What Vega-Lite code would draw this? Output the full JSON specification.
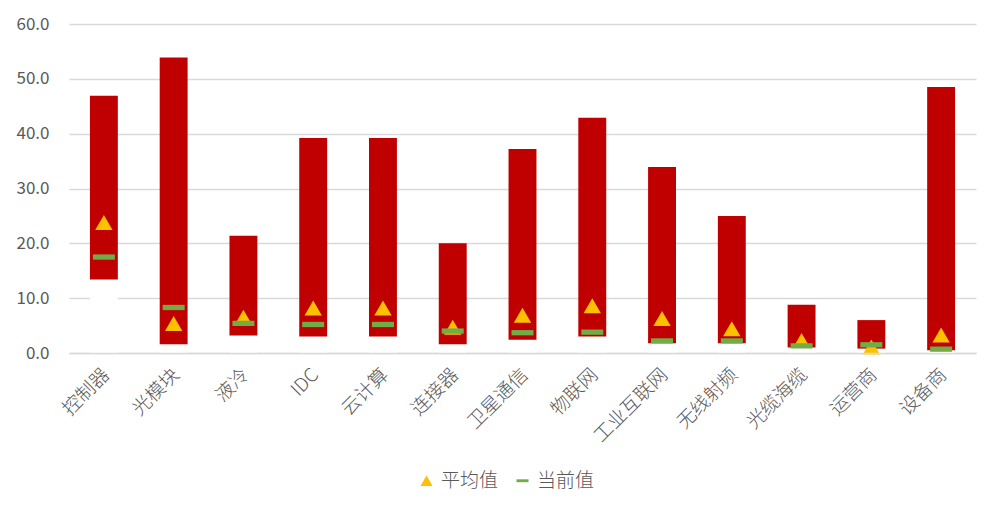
{
  "$schema": "https://vega.github.io/schema/vega-lite/v6.json",
  "autosize": "none",
  "width": 907,
  "height": 329,
  "padding": {"left": 69, "top": 24, "right": 23, "bottom": 159},
  "background": "#ffffff",
  "config": {
    "view": {"stroke": null},
    "font": "Noto Sans CJK SC",
    "axis": {"labelFont": "Noto Sans CJK SC", "labelColor": "#595959"}
  },
  "data": {
    "values": [
      {"cat": "控制器", "min": 13.4, "max": 46.9, "平均值": 23.8, "当前值": 17.5},
      {"cat": "光模块", "min": 1.6, "max": 53.9, "平均值": 5.4, "当前值": 8.3},
      {"cat": "液冷", "min": 3.2, "max": 21.4, "平均值": 6.5, "当前值": 5.4},
      {"cat": "IDC", "min": 3.0, "max": 39.2, "平均值": 8.2, "当前值": 5.2},
      {"cat": "云计算", "min": 3.0, "max": 39.2, "平均值": 8.2, "当前值": 5.2},
      {"cat": "连接器", "min": 1.6, "max": 20.0, "平均值": 4.7, "当前值": 4.0},
      {"cat": "卫星通信", "min": 2.4, "max": 37.2, "平均值": 6.9, "当前值": 3.7},
      {"cat": "物联网", "min": 3.0, "max": 42.9, "平均值": 8.6, "当前值": 3.8},
      {"cat": "工业互联网", "min": 1.8, "max": 33.9, "平均值": 6.3, "当前值": 2.2},
      {"cat": "无线射频", "min": 1.8, "max": 25.0, "平均值": 4.4, "当前值": 2.2},
      {"cat": "光缆海缆", "min": 1.0, "max": 8.8, "平均值": 2.3, "当前值": 1.3},
      {"cat": "运营商", "min": 0.8, "max": 6.0, "平均值": 1.1, "当前值": 1.5},
      {"cat": "设备商", "min": 0.5, "max": 48.5, "平均值": 3.3, "当前值": 0.7}
    ]
  },
  "encoding": {
    "x": {
      "field": "cat",
      "type": "nominal",
      "sort": null,
      "scale": {"paddingInner": 0, "paddingOuter": 0},
      "axis": {
        "title": null,
        "labelAngle": -45,
        "labelFontSize": 19,
        "labelFontWeight": 300,
        "labelPadding": 12,
        "labelOffset": -4,
        "ticks": false,
        "domain": true,
        "domainColor": "#d9d9d9",
        "domainWidth": 1.3,
        "zindex": 1
      }
    }
  },
  "layer": [
    {
      "mark": {"type": "bar", "color": "#ffffff", "width": {"band": 0.4}},
      "encoding": {
        "y": {
          "field": "min",
          "type": "quantitative",
          "scale": {"domain": [0, 60]},
          "axis": {
            "title": null,
            "values": [0, 10, 20, 30, 40, 50, 60],
            "format": ".1f",
            "labelFontSize": 17,
            "labelPadding": 20,
            "ticks": false,
            "domain": false,
            "gridColor": "#d9d9d9",
            "gridWidth": 1.3
          }
        },
        "y2": {"datum": 0}
      }
    },
    {
      "mark": {"type": "bar", "color": "#c00000", "width": {"band": 0.4}},
      "encoding": {
        "y": {"field": "min", "type": "quantitative"},
        "y2": {"field": "max"}
      }
    },
    {
      "transform": [{"fold": ["平均值", "当前值"], "as": ["series", "value"]}],
      "mark": {"type": "point", "filled": true, "opacity": 1},
      "encoding": {
        "y": {"field": "value", "type": "quantitative"},
        "color": {
          "field": "series",
          "type": "nominal",
          "scale": {"domain": ["平均值", "当前值"], "range": ["#ffc000", "#70ad47"]},
          "legend": {
            "title": null,
            "orient": "none",
            "direction": "horizontal",
            "legendX": 348,
            "legendY": 447,
            "labelFontSize": 19,
            "labelFontWeight": 300,
            "labelColor": "#595959",
            "labelOffset": 5,
            "symbolSize": 144,
            "columnPadding": 14
          }
        },
        "shape": {
          "field": "series",
          "type": "nominal",
          "scale": {
            "domain": ["平均值", "当前值"],
            "range": ["triangle-up", "M-1,-0.24L1,-0.24L1,0.24L-1,0.24Z"]
          }
        },
        "size": {
          "condition": {"test": "datum.series === '平均值'", "value": 300},
          "value": 484
        }
      }
    }
  ]
}
